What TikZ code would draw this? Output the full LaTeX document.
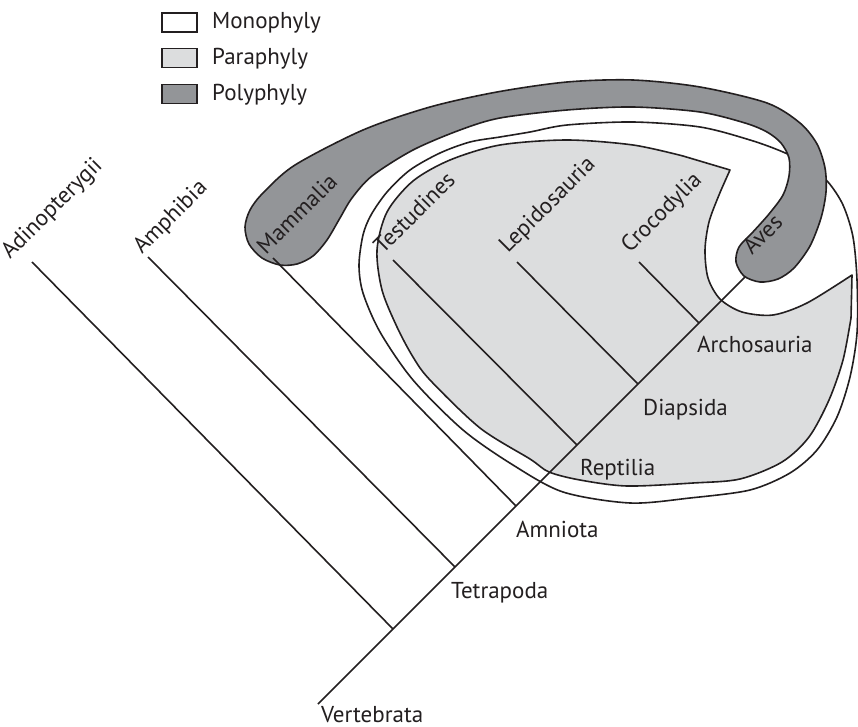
\documentclass[tikz,border=0pt]{standalone}
\usepackage{fontspec}
\setmainfont{PT Sans}
\definecolor{ink}{HTML}{231F20}
\definecolor{paragrey}{HTML}{DCDDDE}
\definecolor{polygrey}{HTML}{939598}
\begin{document}
\begin{tikzpicture}[x=1pt,y=-1pt,
  outline/.style={draw=ink, line width=1.6pt, line join=round},
  branch/.style={draw=ink, line width=1.6pt},
  lbl/.style={font=\fontsize{23}{26}\selectfont, text=ink, inner sep=0pt, anchor=base west},
  tiplbl/.style={lbl, rotate=45},
  legbox/.style={draw=ink, line width=1.7pt, minimum width=35pt, minimum height=19pt, inner sep=0pt}]
\useasboundingbox (0,0) rectangle (858,727);
\fill[white] (0,0) rectangle (858,727);

% legend
\node[legbox, fill=white]     (lmono) at (179.5,22.5) {};
\node[legbox, fill=paragrey]  (lpara) at (179.5,58)   {};
\node[legbox, fill=polygrey]  (lpoly) at (179.5,94)   {};
\node[lbl] (tmono) at (212,28.5)  {Monophyly};
\node[lbl] (tpara) at (212,64.5){Paraphyly};
\node[lbl] (tpoly) at (212,100.5){Polyphyly};

% monophyletic group (white)
\draw[outline, fill=white] plot[smooth cycle] coordinates {
 (359,265) (363,235) (371,215) (387,192) (410,170) (440,153) (470,142)
 (500,137) (530,132) (567,125) (633,122) (700,127) (750,140) (783,152)
 (808,165) (828,182) (843,205) (853,237) (857,280) (857,333) (850,377)
 (837,417) (817,450) (790,473) (750,490) (690,498) (630,503) (563,492)
 (513,465) (463,430) (413,380) (380,332) (363,293)};

% paraphyletic group (light grey)
\draw[outline, fill=paragrey]
 plot[smooth] coordinates {(730,170) (719,195) (709,222) (705,250) (708,278)
   (720,299) (742,312) (773,315) (807,303) (852,275)}
 -- plot[smooth] coordinates {(851,318) (843,360) (829,400) (809,437) (782,462)
   (740,479) (693,483) (627,486) (580,480) (549,472) (530,459) (480,428)
   (430,380) (413,357) (397,327) (382,290) (377,250) (387,212) (413,181)
   (450,160) (500,145) (567,140) (633,145) (683,156)}
 -- cycle;

% polyphyletic group (dark grey band)
\draw[outline, fill=polygrey] plot[smooth cycle] coordinates {
 (280,265) (262,258) (249,244) (245,227) (250,210) (263,193) (295,165)
 (363,130) (430,107) (497,92) (567,82) (633,80) (700,87) (767,103)
 (800,123) (817,144) (825,168) (826,192) (821,218) (810,246) (794,268)
 (778,279) (760,282) (744,276) (736,262) (739,247) (752,233) (769,214)
 (783,195) (789,176) (789,158) (781,143) (767,132) (745,123) (700,112)
 (633,107) (567,110) (500,118) (460,130) (413,150) (372,176) (352,198)
 (340,218) (327,240) (313,256) (297,264)};

% tree coordinates
\coordinate (root) at (318,704);
\coordinate (j1) at (393,629);
\coordinate (j2) at (455,567);
\coordinate (j3) at (516,506);
\coordinate (j4) at (577,445);
\coordinate (j5) at (638,384);
\coordinate (j6) at (699,323);
\coordinate (avesend) at (745,277);
\coordinate (adinend) at (32,262);
\coordinate (amphend) at (148,257);
\coordinate (mammend) at (273,258);
\coordinate (testend) at (393,260);
\coordinate (lepiend) at (517,262);
\coordinate (crocend) at (639,262);

\draw[branch] (root) -- (avesend);
\draw[branch] (j1) -- (adinend);
\draw[branch] (j2) -- (amphend);
\draw[branch] (j3) -- (mammend);
\draw[branch] (j4) -- (testend);
\draw[branch] (j5) -- (lepiend);
\draw[branch] (j6) -- (crocend);

% tip labels
\node[tiplbl] (adin) at (10,260) {Adinopterygii};
\node[tiplbl] (amph) at (142,255) {Amphibia};
\node[tiplbl] (mamm) at (266,256) {Mammalia};
\node[tiplbl] (test) at (383,255) {Testudines};
\node[tiplbl] (lepi) at (508,254) {Lepidosauria};
\node[tiplbl] (croc) at (630,254) {Crocodylia};
\node[tiplbl] (aves) at (752,256) {Aves};

% clade labels
\node[lbl] (vert) at (321,722) {Vertebrata};
\node[lbl] (tetr) at (451,598) {Tetrapoda};
\node[lbl] (amni) at (516,537) {Amniota};
\node[lbl] (rept) at (580,475) {Reptilia};
\node[lbl] (diap) at (643,415) {Diapsida};
\node[lbl] (arch) at (697,352) {Archosauria};
\end{tikzpicture}
\end{document}
